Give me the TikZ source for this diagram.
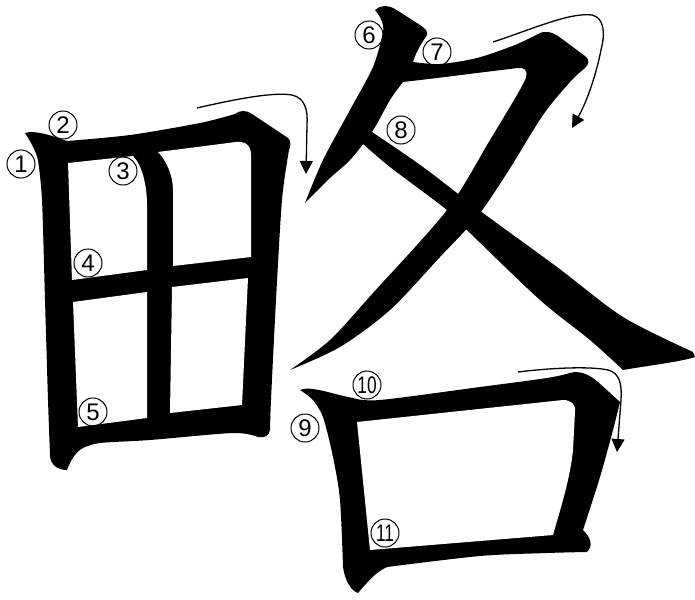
\documentclass[tikz,border=0pt]{standalone}
\usepackage{fontspec}
\setmainfont{Liberation Sans}
\usetikzlibrary{arrows.meta}

\begin{document}
\begin{tikzpicture}[x=1pt, y=-1pt, num/.style={circle, draw, line width=1pt, minimum size=28pt, inner sep=0pt, font=\fontsize{24}{24}\selectfont}, flow/.style={line width=1.3pt, -{Triangle[length=13pt,width=13pt]}}]
  \useasboundingbox (0,0) rectangle (695,599);
  \fill (25,133) .. controls (35,130) and (50,135) .. (67,141) -- plot[smooth] coordinates {(67,141) (130,135) (200,123) (235,114)} .. controls (240,110) and (246,110) .. (252,114) -- (288,138) .. controls (291,141) and (291,145) .. (289,150) -- plot[smooth] coordinates {(289,150) (282,200) (276,300) (271,400) (270,430)} .. controls (269,436) and (265,438) .. (258,437) -- plot[smooth] coordinates {(258,437) (233,433) (150,440) (100,443) (83,448)} .. controls (75,452) and (70,462) .. (67,470) .. controls (58,470) and (50,465) .. (50,455) -- plot[smooth] coordinates {(50,455) (48,400) (45,300) (42,200) (38,160)} .. controls (35,148) and (28,138) .. (25,133) -- cycle;
  \fill[white] (68,163) -- (133,156) .. controls (142,165) and (147,185) .. (147,205) -- (147,270) -- (72,280) -- cycle;
  \fill[white] (158,152) -- (236,142) .. controls (246,141) and (251,146) .. (251,155) -- (251,257) -- (173,266) -- (173,190) .. controls (173,175) and (166,160) .. (158,152) -- cycle;
  \fill[white] (73,302) -- (147,292) -- (147,418) -- (78,427) -- cycle;
  \fill[white] (172,287) -- (248,278) -- (242,405) -- (170,413) -- cycle;
  \fill (375,10) .. controls (380,5) and (388,5) .. (395,9) -- (420,25) .. controls (426,29) and (428,32) .. (427,35) .. controls (421,44) and (416,52) .. (413,62) -- plot[smooth] coordinates {(413,62) (440,64) (477,58) (515,45) (538,34)} .. controls (545,30) and (552,32) .. (558,36) -- (585,56) .. controls (590,60) and (589,64) .. (585,68) -- plot[smooth] coordinates {(585,68) (570,82) (543,115) (507,173) (477,217) (440,257) (390,310) (340,347) (290,370)} -- plot[smooth] coordinates {(290,370) (330,340) (373,293) (447,210) (490,140) (517,95) (526,78)} .. controls (528,70) and (524,67) .. (518,68) -- plot[smooth] coordinates {(518,68) (477,73) (437,78) (403,82)} -- plot[smooth] coordinates {(403,82) (390,100) (372,132) (350,160) (330,178) (305,203)} -- plot[smooth] coordinates {(305,203) (323,160) (350,110) (373,67) (383,33)} .. controls (385,22) and (378,14) .. (375,10) -- cycle;
  \fill plot[smooth] coordinates {(372,132) (423,167) (483,213) (557,267) (623,317) (693,352)} -- (695,357) .. controls (680,362) and (645,366) .. (623,370) -- plot[smooth] coordinates {(623,370) (590,340) (540,300) (470,233) (447,210) (390,167) (362,143)} -- cycle;
  \fill (300,390) .. controls (310,385) and (335,395) .. (353,398) -- plot[smooth] coordinates {(353,398) (380,400) (480,387) (547,378) (570,373)} .. controls (580,370) and (590,375) .. (598,382) -- (620,402) -- plot[smooth] coordinates {(620,402) (613,430) (600,477) (583,530)} .. controls (590,537) and (594,545) .. (587,552) -- plot[smooth] coordinates {(587,552) (547,553) (480,556) (387,567)} .. controls (375,572) and (365,585) .. (358,593) .. controls (350,590) and (345,580) .. (343,567) -- plot[smooth] coordinates {(343,567) (340,500) (333,457) (323,417) (313,400)} .. controls (308,395) and (303,392) .. (300,390) -- cycle;
  \fill[white] (357,422) -- (563,400) .. controls (572,400) and (576,405) .. (575,412) -- (573,450) .. controls (570,480) and (560,510) .. (553,535) -- (370,550) -- cycle;
  \draw[flow] (197,108) .. controls (240,98) and (275,92) .. (292,95) .. controls (305,98) and (308,110) .. (307,125) -- (306,174);
  \draw[flow] (493,42) .. controls (530,30) and (570,12) .. (592,15) .. controls (605,18) and (605,35) .. (601,50) .. controls (595,80) and (585,105) .. (572,128);
  \draw[flow] (518,372) .. controls (550,368) and (590,366) .. (608,370) .. controls (620,373) and (622,385) .. (621,400) -- (617,452);
  \node[num] (n1) at (21,164) {1};
  \node[num] (n2) at (63,125) {2};
  \node[num] (n3) at (123,171) {3};
  \node[num] (n4) at (88,263) {4};
  \node[num] (n5) at (93,412) {5};
  \node[num] (n6) at (369,35) {6};
  \node[num] (n7) at (437,52) {7};
  \node[num] (n8) at (401,130) {8};
  \node[num] (n9) at (305,428) {9};
  \node[num] (n10) at (367,385) {\scalebox{0.72}[1]{10}};
  \node[num] (n11) at (385,533) {\scalebox{0.72}[1]{11}};
\end{tikzpicture}
\end{document}
